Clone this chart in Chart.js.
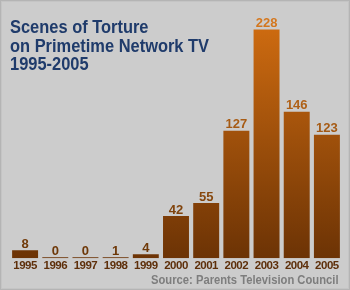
<!DOCTYPE html>
<html><head><meta charset="utf-8">
<script src="https://cdn.jsdelivr.net/npm/chart.js@4/dist/chart.umd.min.js"></script>
<style>
html,body{margin:0;padding:0;background:#cccccc;}
#wrap{position:relative;width:350px;height:290px;background:#cccccc;box-sizing:border-box;border:1px solid #b4b4b4;box-shadow:inset 0 0 0 1px #c4c4c4;overflow:hidden;}
#c{position:absolute;left:0;top:0;}
#title{position:absolute;left:9px;top:17px;font-family:"Liberation Sans",Arial,sans-serif;font-weight:bold;font-size:18px;line-height:18.5px;color:#1f3b6b;white-space:nowrap;transform:scaleX(0.913);transform-origin:0 0;}
#source{position:absolute;right:11px;top:273px;font-family:"Liberation Sans",Arial,sans-serif;font-weight:bold;font-size:12px;line-height:12px;color:#7d7d7d;white-space:nowrap;transform:scaleX(0.935);transform-origin:100% 0;}
</style></head>
<body>
<div id="wrap">
<canvas id="c" width="350" height="290"></canvas>
<div id="title">Scenes of Torture<br>on Primetime Network TV<br>1995-2005</div>
<div id="source">Source: Parents Television Council</div>
</div>
<script>
const years = ["1995","1996","1997","1998","1999","2000","2001","2002","2003","2004","2005"];
const scenes = [8,0,0,1,4,42,55,127,228,146,123];

function makeGrad(chart){
  const ys = chart.scales.y;
  if(!chart.chartArea || !ys || !isFinite(ys.getPixelForValue(0))) return '#7a3a06';
  const g = chart.ctx.createLinearGradient(0, ys.getPixelForValue(228), 0, ys.getPixelForValue(0));
  g.addColorStop(0, '#cc6a10');
  g.addColorStop(1, '#6c3305');
  return g;
}

const tightText = {
  id:'tightText',
  beforeLayout(chart){ chart.ctx.letterSpacing = '-0.5px'; },
  beforeDraw(chart){ chart.ctx.letterSpacing = '-0.5px'; }
};

const valueLabels = {
  id:'valueLabels',
  afterDatasetsDraw(chart){
    const ctx = chart.ctx;
    const meta = chart.getDatasetMeta(0);
    const ys = chart.scales.y;
    const g = ctx.createLinearGradient(0, ys.getPixelForValue(240), 0, ys.getPixelForValue(0));
    g.addColorStop(0, '#d6781e');
    g.addColorStop(1, '#6a3608');
    ctx.save();
    ctx.letterSpacing = '0px';
    ctx.font = 'bold 13px "Liberation Sans", Arial, sans-serif';
    ctx.textAlign = 'center';
    ctx.textBaseline = 'alphabetic';
    ctx.fillStyle = g;
    meta.data.forEach((bar,i)=>{
      ctx.fillText(String(scenes[i]), bar.x, bar.y - 2.5);
    });
    ctx.restore();
  }
};

new Chart(document.getElementById('c'), {
  type:'bar',
  data:{labels:years, datasets:[{data:scenes, backgroundColor:(c)=>makeGrad(c.chart), borderWidth:0, minBarLength:1, barPercentage:0.86, categoryPercentage:1}]},
  options:{
    responsive:false, animation:false,
    layout:{padding:{left:9,right:9,top:0,bottom:17}},
    plugins:{legend:{display:false}, tooltip:{enabled:false}},
    scales:{
      x:{grid:{display:false, drawTicks:false}, border:{display:false},
         ticks:{color:'#5e2f0a', padding:1, maxRotation:0, minRotation:0, autoSkip:false,
                font:{family:'"Liberation Sans",Arial,sans-serif', weight:'bold', size:11.5}}},
      y:{display:false, min:0, max:256.5}
    }
  },
  plugins:[tightText, valueLabels]
});
</script>
</body></html>
